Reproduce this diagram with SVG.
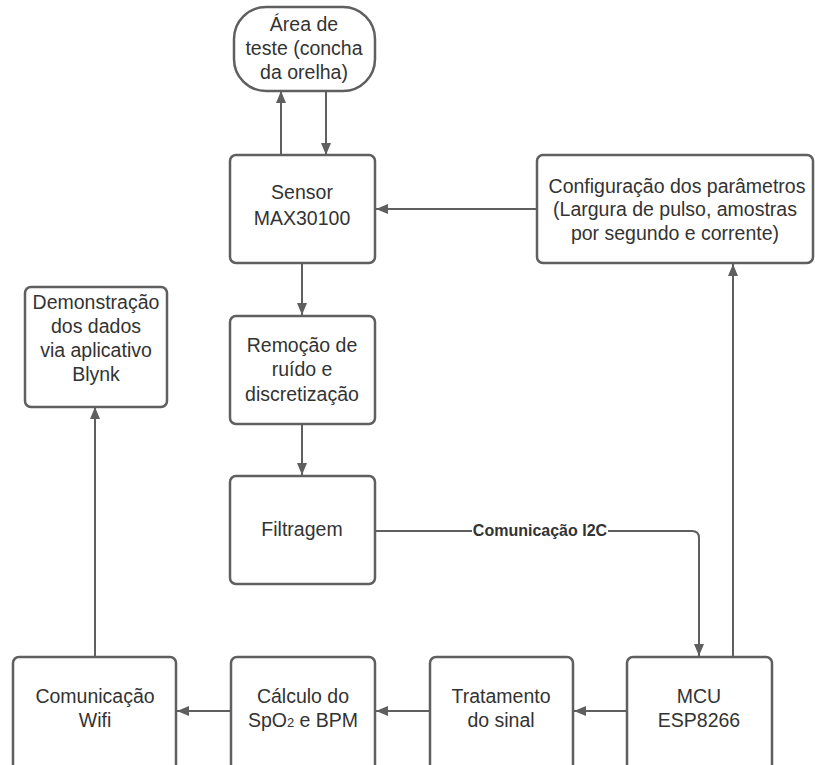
<svg xmlns="http://www.w3.org/2000/svg" width="815" height="765" viewBox="0 0 815 765">
<style>
.box{fill:#fff;stroke:#5f5f5f;stroke-width:2.5}
.t{font-family:"Liberation Sans",Arial,sans-serif;font-size:19.5px;fill:#333;text-anchor:middle}
.lbl{font-family:"Liberation Sans",Arial,sans-serif;font-size:16px;font-weight:bold;fill:#333;text-anchor:middle}
.c{fill:none;stroke:#5f5f5f;stroke-width:2}
</style>
<defs>
<marker id="ah" viewBox="0 0 12 10" refX="12" refY="5" markerWidth="12" markerHeight="10" markerUnits="userSpaceOnUse" orient="auto">
<path d="M0,0 L12,5 L0,10 Z" fill="#5f5f5f"/>
</marker>
</defs>
<rect width="815" height="765" fill="#fff"/>
<g id="connectors">
<line class="c" x1="281" y1="155" x2="281" y2="91" marker-end="url(#ah)"/>
<line class="c" x1="326" y1="91" x2="326" y2="155" marker-end="url(#ah)"/>
<line class="c" x1="537" y1="209" x2="376" y2="209" marker-end="url(#ah)"/>
<line class="c" x1="302" y1="263" x2="302" y2="315" marker-end="url(#ah)"/>
<line class="c" x1="302" y1="424" x2="302" y2="475" marker-end="url(#ah)"/>
<path class="c" d="M375,531 H692 Q699,531 699,538 V656" marker-end="url(#ah)"/>
<rect x="472" y="522" width="136" height="18" fill="#fff"/>
<text class="lbl" x="540" y="536">Comunicação I2C</text>
<line class="c" x1="733" y1="657" x2="733" y2="264" marker-end="url(#ah)"/>
<line class="c" x1="627" y1="711" x2="574" y2="711" marker-end="url(#ah)"/>
<line class="c" x1="430" y1="711" x2="376" y2="711" marker-end="url(#ah)"/>
<line class="c" x1="230" y1="711" x2="177" y2="711" marker-end="url(#ah)"/>
<line class="c" x1="95" y1="657" x2="95" y2="407" marker-end="url(#ah)"/>
</g>
<g id="area">
<rect class="box" x="234" y="7" width="141" height="84" rx="32"/>
<text class="t" x="304" y="31">Área de</text>
<text class="t" x="304" y="55">teste (concha</text>
<text class="t" x="304" y="79">da orelha)</text>
</g>
<g id="sensor">
<rect class="box" x="230" y="155" width="145" height="108" rx="6"/>
<text class="t" x="302" y="199">Sensor</text>
<text class="t" x="302" y="225">MAX30100</text>
</g>
<g id="config">
<rect class="box" x="537" y="155" width="276" height="108" rx="6"/>
<text class="t" x="677" y="193">Configuração dos parâmetros</text>
<text class="t" x="675" y="216">(Largura de pulso, amostras</text>
<text class="t" x="675" y="240">por segundo e corrente)</text>
</g>
<g id="remocao">
<rect class="box" x="230" y="316" width="145" height="108" rx="6"/>
<text class="t" x="302" y="352">Remoção de</text>
<text class="t" x="302" y="376">ruído e</text>
<text class="t" x="302" y="401">discretização</text>
</g>
<g id="filtragem">
<rect class="box" x="230" y="476" width="145" height="108" rx="6"/>
<text class="t" x="302" y="536">Filtragem</text>
</g>
<g id="demonstracao">
<rect class="box" x="25" y="287" width="142" height="120" rx="6"/>
<text class="t" x="96" y="309">Demonstração</text>
<text class="t" x="96" y="333">dos dados</text>
<text class="t" x="96" y="357">via aplicativo</text>
<text class="t" x="96" y="381">Blynk</text>
</g>
<g id="mcu">
<rect class="box" x="627" y="657" width="145" height="120" rx="6"/>
<text class="t" x="699" y="703">MCU</text>
<text class="t" x="699" y="727">ESP8266</text>
</g>
<g id="tratamento">
<rect class="box" x="430" y="657" width="143" height="120" rx="6"/>
<text class="t" x="501" y="703">Tratamento</text>
<text class="t" x="501" y="727">do sinal</text>
</g>
<g id="calculo">
<rect class="box" x="231" y="657" width="144" height="120" rx="6"/>
<text class="t" x="303" y="703">Cálculo do</text>
<text class="t" x="303" y="727">SpO<tspan font-size="13">2</tspan> e BPM</text>
</g>
<g id="wifi">
<rect class="box" x="13" y="657" width="163" height="120" rx="6"/>
<text class="t" x="95" y="703">Comunicação</text>
<text class="t" x="95" y="727">Wifi</text>
</g>
</svg>
